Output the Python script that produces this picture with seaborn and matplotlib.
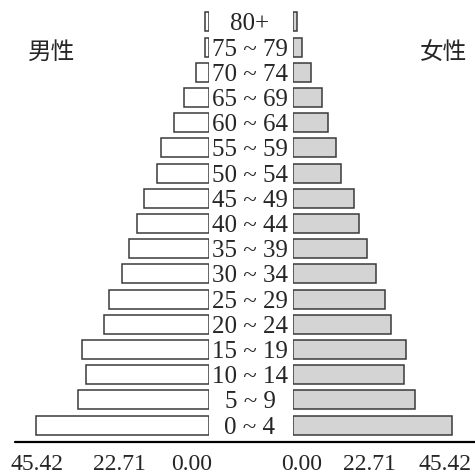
import matplotlib
matplotlib.use("Agg")
import matplotlib.pyplot as plt
import matplotlib.transforms as mtransforms
from matplotlib.lines import Line2D
import seaborn as sns
import pandas as pd

# Datos de la pirámide (de arriba hacia abajo)
# ============================================================
edades = ["80+", "75 ~ 79", "70 ~ 74", "65 ~ 69", "60 ~ 64", "55 ~ 59",
          "50 ~ 54", "45 ~ 49", "40 ~ 44", "35 ~ 39", "30 ~ 34", "25 ~ 29",
          "20 ~ 24", "15 ~ 19", "10 ~ 14", "5 ~ 9", "0 ~ 4"]
hombres = [1.1, 1.1, 3.3, 6.6, 9.2, 12.6, 13.7, 17.1, 18.9, 21.1, 22.9,
           26.3, 27.6, 33.4, 32.4, 34.5, 45.5]
mujeres = [1.3, 2.7, 5.4, 8.7, 10.4, 12.8, 14.3, 18.2, 19.7, 22.1, 24.8,
           27.5, 29.3, 33.7, 33.1, 36.4, 47.5]

etiquetas_x = ["45.42", "22.71", "0.00"]
ticks_izq = [45.3, 23.7, 4.5]
ticks_der = [2.7, 22.7, 45.4]
etiquetas_der = ["0.00", "22.71", "45.42"]

df = pd.DataFrame({"edad": edades, "hombres": hombres, "mujeres": mujeres})

sns.set_style("white")
plt.rcParams["font.family"] = ["Liberation Serif", "DejaVu Serif"]

W, H = 475, 475
fig = plt.figure(figsize=(W / 100, H / 100), dpi=100)

# Ejes: izquierdo (hombres) y derecho (mujeres), en pixeles de la figura
# ============================================================
ax_l = fig.add_axes([0, 1 - 442 / H, 209 / W, 442 / H])
ax_r = fig.add_axes([293 / W, 1 - 442 / H, 182 / W, 442 / H])

borde = "#3a3a3a"
sns.barplot(data=df, x="hombres", y="edad", orient="h", color="white",
            edgecolor=borde, linewidth=1.1, width=0.75, saturation=1, ax=ax_l)
sns.barplot(data=df, x="mujeres", y="edad", orient="h", color="#d4d4d4",
            edgecolor=borde, linewidth=1.1, width=0.75, saturation=1, ax=ax_r)

for ax in (ax_l, ax_r):
    ax.set_ylim(16.67, -0.87)
    ax.set_yticks([])
    ax.set_ylabel("")
    ax.set_xlabel("")
    for s in ax.spines.values():
        s.set_visible(False)
    ax.tick_params(axis="x", length=0, pad=9, labelsize=17)
    ax.patch.set_alpha(0)

ax_l.set_xlim(209 / 3.8, 0)
ax_r.set_xlim(0, 182 / 3.35)
ax_l.set_xticks(ticks_izq)
ax_l.set_xticklabels(etiquetas_x)
ax_r.set_xticks(ticks_der)
ax_r.set_xticklabels(etiquetas_der)

# Etiquetas de edad en el centro
# ============================================================
trans = mtransforms.blended_transform_factory(fig.transFigure, ax_l.transData)
for i, e in enumerate(edades):
    fig.text(250 / W, i, e, transform=trans, ha="center",
             va="center_baseline", fontsize=18)

# Títulos
fig.text(52 / W, 1 - 52 / H, "男性", ha="center", va="center", fontsize=17,
         family=["Noto Sans CJK SC", "DejaVu Sans"])
fig.text(444 / W, 1 - 52 / H, "女性", ha="center", va="center", fontsize=17,
         family=["Noto Sans CJK SC", "DejaVu Sans"])

# Línea base
fig.add_artist(Line2D([15 / W, 1], [1 - 442 / H, 1 - 442 / H],
                      transform=fig.transFigure, color="black", lw=1.6))

fig.savefig("out.png", dpi=100)
